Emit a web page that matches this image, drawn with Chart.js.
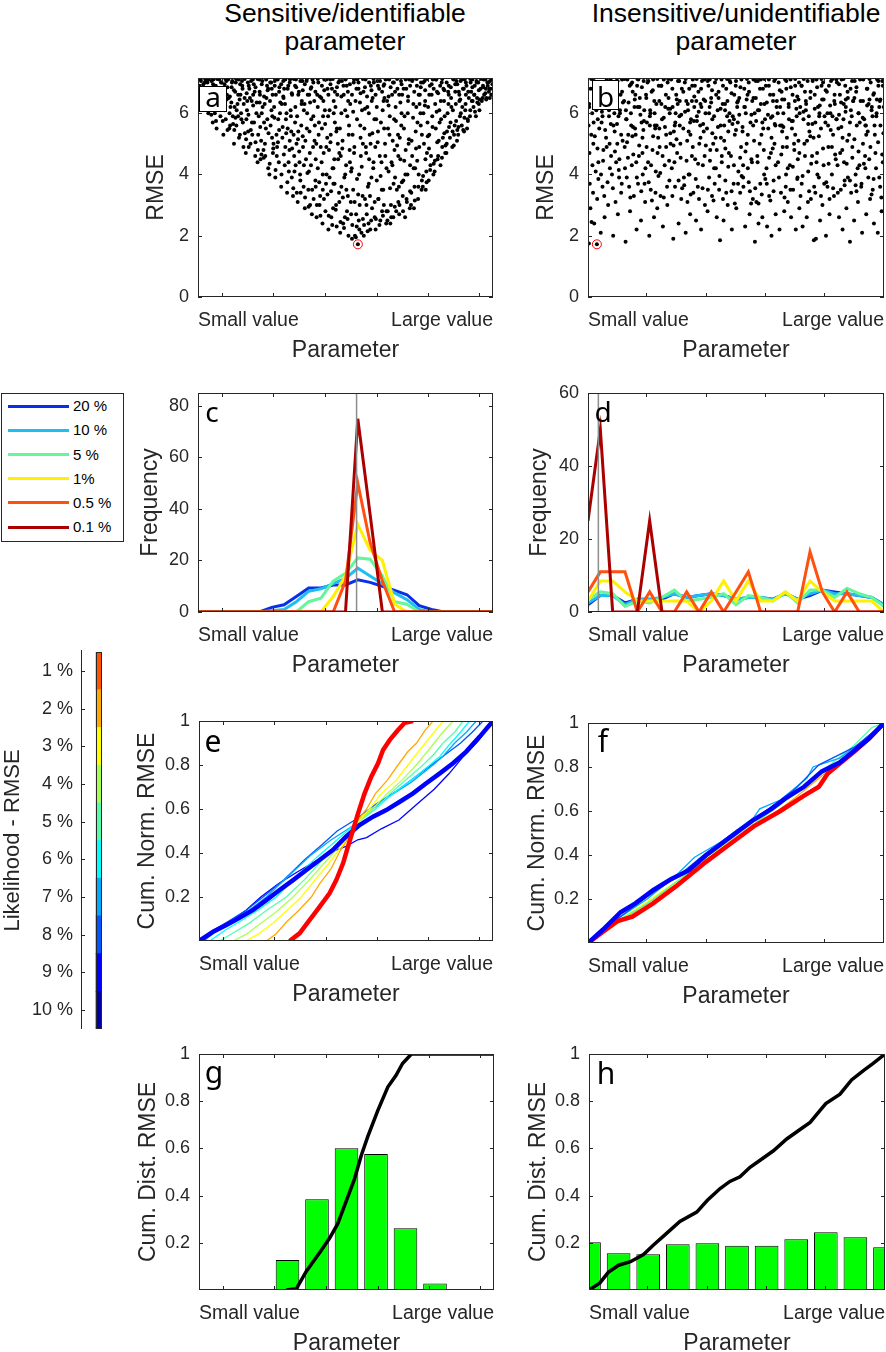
<!DOCTYPE html>
<html>
<head>
<meta charset="utf-8">
<title>Sensitive vs insensitive parameter</title>
<script src="https://cdn.jsdelivr.net/npm/chart.js@4.4.1/dist/chart.umd.min.js"></script>
<style>
  html, body { margin: 0; padding: 0; overflow: hidden; background: #fff; }
  body { position: relative; width: 886px; height: 1352px; font-family: "Liberation Sans", Arial, sans-serif; }
  .pane { position: absolute; }
  .ttl { position: absolute; width: 320px; text-align: center; font-size: 26.5px; line-height: 28px; color: #000; }
  .let { position: absolute; font-family: "Noto Sans", sans-serif; color: #000; text-align: center; }
  .lbox { position: absolute; background: #fff; border: 1px solid #000; box-sizing: border-box; }
  #legend { position: absolute; left: 1px; top: 393px; width: 123px; height: 149px; border: 1px solid #262626; box-sizing: border-box; background: #fff; }
  #legend .sw { position: absolute; left: 6px; width: 61px; height: 3px; }
  #legend .tx { position: absolute; left: 71px; font-size: 15px; line-height: 18px; color: #000; white-space: nowrap; }
</style>
</head>
<body>
<div class="ttl" style="left:185px;top:-1px">Sensitive/identifiable<br>parameter</div>
<div class="ttl" style="left:576px;top:-1px">Insensitive/unidentifiable<br>parameter</div>
<div id="legend"></div>
<script>
// ---- data ----
// a: parameter (% of range), RMSE  -- sensitive parameter
var ptsA = [
 0.5,6.9, 1,7.05, 1.5,6.6, 2,6.3, 2.5,7.1, 3,6.8, 3.5,6.0, 0.8,6.45, 1.8,6.95, 3.2,7.0, 2.2,6.7, 3.8,6.5, 0.3,7.1,
 4.2,6.2, 4.6,7.05, 5,5.7, 5.5,6.55, 6,6.9, 6.3,5.5, 6.8,6.3, 7.2,7.1, 7.6,5.9, 4.8,6.8, 5.8,6.1, 7.0,6.7, 7.8,7.0, 5.2,7.1,
 8.2,6.4, 8.6,5.3, 9,6.95, 9.4,5.8, 9.8,6.6, 10.2,7.1, 10.6,5.5, 11,6.2, 11.4,6.85, 11.8,5.9, 8.9,6.1, 10.4,6.5, 11.6,7.05, 9.6,7.05, 10.9,5.6,
 12.2,5.0, 12.6,6.7, 13,5.6, 13.4,6.3, 13.8,7.1, 14.2,5.3, 14.6,6.0, 15,6.9, 15.4,4.9, 15.8,6.5, 12.8,7.0, 13.6,5.9, 14.4,6.6, 15.2,5.7, 12.4,6.2, 14.9,7.05,
 16.2,4.7, 16.6,6.1, 17,5.4, 17.4,6.8, 17.8,5.0, 18.2,6.4, 18.6,7.1, 19,5.7, 19.4,4.6, 19.8,6.0, 16.9,7.0, 17.6,6.5, 18.4,5.3, 19.2,6.7, 16.4,5.8, 18.9,6.95, 17.2,4.9,
 20.2,4.4, 20.6,5.9, 21,6.6, 21.4,5.1, 21.8,7.05, 22.2,4.8, 22.6,6.3, 23,5.5, 23.4,6.9, 23.8,4.2, 20.8,7.1, 21.6,6.0, 22.4,5.7, 23.2,6.5, 20.4,5.3, 22.8,4.6, 23.6,6.75, 21.2,4.5,
 24.2,4.0, 24.6,5.6, 25,6.8, 25.4,4.7, 25.8,6.2, 26.2,3.9, 26.6,5.3, 27,7.1, 27.4,4.4, 27.8,6.0, 24.8,7.0, 25.6,5.0, 26.4,6.6, 27.2,5.8, 24.4,6.4, 26.8,4.9, 27.6,6.85, 25.2,5.9, 26,7.05,
 28.2,3.6, 28.6,5.2, 29,6.5, 29.4,4.3, 29.8,5.8, 30.2,3.4, 30.6,6.9, 31,4.8, 31.4,6.1, 31.8,3.9, 28.9,7.05, 29.6,4.9, 30.4,5.5, 31.2,7.1, 28.4,6.3, 30.8,4.1, 31.6,5.4, 29.2,6.8, 30,6.0, 31.9,6.6,
 32.2,3.3, 32.6,4.6, 33,6.2, 33.4,5.0, 33.8,3.1, 34.2,6.7, 34.6,4.0, 35,5.6, 35.4,7.05, 35.8,3.6, 32.9,6.9, 33.6,5.9, 34.4,4.4, 35.2,6.4, 32.4,5.3, 34.8,3.4, 35.6,4.9, 33.2,7.1, 34,5.4, 35.9,6.1, 32.7,4.1,
 36.2,2.9, 36.6,4.5, 37,6.0, 37.4,3.5, 37.8,5.4, 38.2,6.8, 38.6,2.7, 39,4.9, 39.4,6.4, 39.8,3.8, 36.8,7.05, 37.6,4.1, 38.4,5.8, 39.2,3.2, 36.4,5.1, 38.8,7.1, 39.6,5.6, 37.2,6.6, 38,3.0, 36.1,6.3, 39.9,4.5,
 40.2,2.6, 40.6,4.2, 41,5.7, 41.4,3.3, 41.8,6.5, 42.2,2.4, 42.6,4.7, 43,6.1, 43.4,3.7, 43.8,5.2, 40.8,7.0, 41.6,4.9, 42.4,5.9, 43.2,2.8, 40.4,6.6, 42.8,7.1, 43.6,4.0, 41.2,3.0, 42,5.5, 43.9,6.8, 40.1,5.0, 42.3,3.5,
 44.2,2.2, 44.6,3.9, 45,5.3, 45.4,6.8, 45.8,2.9, 46.2,4.5, 46.6,6.2, 47,2.3, 47.4,5.0, 47.8,3.4, 44.8,7.1, 45.6,4.2, 46.4,5.7, 47.2,6.6, 44.4,4.8, 46.8,3.0, 47.6,7.0, 45.2,2.6, 46,6.0, 47.9,4.7, 44.1,5.9, 46.9,5.4, 45.9,3.7,
 48.2,2.1, 48.6,3.6, 49,5.1, 49.4,6.6, 49.8,2.6, 50.2,4.3, 50.6,5.9, 51,2.0, 51.4,4.8, 51.8,3.1, 48.8,7.05, 49.6,3.9, 50.4,6.9, 51.2,5.6, 48.4,4.6, 50.8,3.3, 51.6,6.3, 49.2,2.4, 50,7.1, 51.9,4.1, 48.1,5.5, 50.5,2.8, 49.9,6.1,
 52.2,1.9, 52.6,3.5, 53,4.9, 53.4,6.4, 53.8,2.3, 54.2,1.72, 54.6,4.0, 55,5.6, 55.4,2.1, 55.8,3.3, 52.8,7.0, 53.6,2.7, 54.4,6.8, 55.2,4.6, 52.4,5.3, 54.8,3.0, 55.6,6.1, 53.2,2.0, 54,7.1, 55.9,5.0, 52.1,4.2, 54.5,2.5, 53.9,5.8,
 56.2,2.0, 56.6,3.2, 57,4.7, 57.4,6.2, 57.8,2.4, 58.2,5.3, 58.6,6.9, 59,2.9, 59.4,4.2, 59.8,5.8, 56.8,7.1, 57.6,3.6, 58.4,2.2, 59.2,6.5, 56.4,5.5, 58.8,3.9, 59.6,7.0, 57.2,2.7, 58,4.5, 59.9,3.1, 56.1,6.7, 58.5,5.0, 57.9,6.0,
 60.2,2.2, 60.6,3.8, 61,5.4, 61.4,6.8, 61.8,2.5, 62.2,4.4, 62.6,6.1, 63,3.0, 63.4,5.0, 63.8,2.4, 60.8,7.05, 61.6,4.6, 62.4,2.8, 63.2,6.5, 60.4,5.8, 62.8,3.5, 63.6,7.1, 61.2,3.2, 62,5.7, 63.9,4.2, 60.1,4.9, 62.9,6.9,
 64.2,2.5, 64.6,4.1, 65,5.9, 65.4,3.0, 65.8,6.6, 66.2,2.6, 66.6,4.8, 67,6.2, 67.4,3.5, 67.8,5.3, 64.8,7.1, 65.6,4.4, 66.4,7.0, 67.2,2.8, 64.4,5.5, 66.8,3.9, 67.6,6.8, 65.2,2.4, 66,5.1, 67.9,4.6, 64.1,6.4, 66.5,5.8,
 68.2,2.7, 68.6,4.5, 69,6.0, 69.4,3.3, 69.8,5.5, 70.2,2.6, 70.6,6.8, 71,4.0, 71.4,5.0, 71.8,2.9, 68.8,7.05, 69.6,3.8, 70.4,4.8, 71.2,6.4, 68.4,5.2, 70.8,3.1, 71.6,7.1, 69.2,6.6, 70,5.9, 71.9,4.3, 68.1,3.6,
 72.2,3.0, 72.6,4.6, 73,6.3, 73.4,3.6, 73.8,5.4, 74.2,6.9, 74.6,3.2, 75,4.9, 75.4,6.0, 75.8,3.5, 72.8,7.1, 73.6,4.2, 74.4,5.7, 75.2,6.6, 72.4,5.1, 74.8,4.0, 75.6,7.0, 73.2,2.9, 74,6.2, 75.9,5.3,
 76.2,3.6, 76.6,5.0, 77,6.4, 77.4,4.1, 77.8,5.7, 78.2,3.8, 78.6,6.9, 79,4.6, 79.4,5.9, 79.8,4.0, 76.8,7.05, 77.6,4.7, 78.4,5.3, 79.2,6.6, 76.4,6.0, 78.8,4.3, 79.6,7.1, 77.2,3.5, 78,6.2,
 80.2,4.1, 80.6,5.5, 81,6.7, 81.4,4.6, 81.8,6.1, 82.2,4.3, 82.6,7.0, 83,5.2, 83.4,6.4, 83.8,4.7, 80.8,7.1, 81.6,5.1, 82.4,5.8, 83.2,6.8, 80.4,6.3, 82.8,4.9, 83.6,5.9, 81.2,4.5,
 84.2,4.7, 84.6,6.0, 85,6.9, 85.4,5.2, 85.8,6.5, 86.2,4.9, 86.6,7.1, 87,5.6, 87.4,6.3, 87.8,5.1, 84.8,6.7, 85.6,5.7, 86.4,6.1, 87.2,6.95, 84.4,5.4, 86.8,5.3, 87.6,7.05,
 88.2,5.3, 88.6,6.4, 89,7.05, 89.4,5.6, 89.8,6.8, 90.2,5.4, 90.6,6.1, 91,6.9, 91.4,5.8, 91.8,6.5, 88.8,5.9, 89.6,6.2, 90.4,7.1, 91.2,5.5, 88.4,6.7, 90.8,6.6,
 92.2,5.9, 92.6,6.7, 93,7.1, 93.4,6.2, 93.8,6.9, 94.2,5.9, 94.6,6.5, 95,7.0, 95.4,6.1, 95.8,6.8, 92.8,6.4, 93.6,6.6, 94.4,7.05, 95.2,6.3, 92.4,7.0,
 96.2,6.4, 96.6,6.9, 97,6.6, 97.4,7.1, 97.8,6.5, 98.2,6.9, 98.6,6.7, 99,7.05, 99.4,6.6, 99.8,6.95, 96.8,7.1, 97.6,6.8, 98.4,7.0, 99.2,6.8
];
// a: more runs inside the V
var midA = [
 0.7,6.25, 1.9,6.4, 3.1,6.15, 2.7,6.45,
 4.5,5.95, 5.3,6.35, 6.1,5.75, 6.9,6.15, 7.5,6.45, 5.7,6.0,
 8.4,5.75, 9.2,6.25, 10.0,5.45, 10.7,6.0, 11.3,6.35, 11.9,5.65, 9.7,6.45,
 12.3,5.45, 13.1,6.1, 13.9,5.2, 14.7,5.8, 15.5,6.3, 12.7,5.85, 14.1,6.45, 15.9,5.35,
 16.3,5.15, 17.1,5.95, 17.9,5.45, 18.7,6.25, 19.5,5.05, 16.7,6.4, 18.3,5.7, 19.9,6.35,
 20.3,4.8, 21.1,5.55, 21.9,6.2, 22.7,5.0, 23.5,5.8, 20.9,6.35, 22.3,4.55, 23.9,5.35, 21.5,4.65,
 24.3,4.35, 25.1,5.2, 25.9,5.85, 26.7,4.6, 27.5,5.45, 24.9,6.1, 26.3,4.15, 27.9,6.35, 25.5,4.85, 27.1,5.05,
 28.3,4.0, 29.1,4.65, 29.9,5.35, 30.7,4.4, 31.5,5.9, 28.7,5.55, 30.3,3.75, 31.9,4.85, 29.5,6.3, 31.1,5.1,
 32.3,3.55, 33.1,4.3, 33.9,5.15, 34.7,3.8, 35.5,5.25, 32.9,5.7, 34.3,4.75, 35.9,4.3, 33.5,3.4, 35.1,6.3,
 36.3,3.25, 37.1,4.05, 37.9,4.7, 38.7,3.5, 39.5,5.1, 36.9,5.5, 38.3,4.3, 39.9,3.6, 37.5,2.95, 39.1,5.9, 38.0,6.35,
 40.3,3.0, 41.1,3.75, 41.9,4.4, 42.7,3.2, 43.5,4.9, 40.9,5.3, 42.3,4.0, 43.9,3.35, 41.5,2.65, 43.1,5.65, 40.6,6.2, 42.5,6.4,
 44.3,2.65, 45.1,3.45, 45.9,4.2, 46.7,2.85, 47.5,4.5, 44.9,5.05, 46.3,3.7, 47.9,3.1, 45.5,2.35, 47.1,5.5, 44.6,6.1, 46.0,6.4,
 48.3,2.45, 49.1,3.25, 49.9,4.0, 50.7,2.55, 51.5,4.4, 48.9,4.85, 50.3,3.5, 51.9,2.7, 49.5,2.25, 51.1,5.3, 48.6,6.0, 50.9,6.4,
 52.3,2.35, 53.1,3.1, 53.9,3.85, 54.7,2.2, 55.5,4.25, 52.9,4.7, 54.3,3.35, 55.9,2.55, 53.5,1.95, 55.1,5.2, 52.6,6.05, 54.9,6.35,
 56.3,2.35, 57.1,3.0, 57.9,3.7, 58.7,2.5, 59.5,4.4, 56.9,4.9, 58.3,3.3, 59.9,2.6, 57.5,2.15, 59.1,5.35, 56.6,6.15, 58.9,6.4,
 60.3,2.55, 61.1,3.2, 61.9,3.95, 62.7,2.65, 63.5,4.6, 60.9,5.05, 62.3,3.5, 63.9,2.8, 61.5,2.35, 63.1,5.5, 60.6,6.2, 62.9,6.4,
 64.3,2.8, 65.1,3.55, 65.9,4.3, 66.7,2.95, 67.5,4.95, 64.9,5.3, 66.3,3.7, 67.9,3.1, 65.5,2.6, 67.1,5.75, 64.6,6.25,
 68.3,3.0, 69.1,3.75, 69.9,4.45, 70.7,3.2, 71.5,5.15, 68.9,5.6, 70.3,4.0, 71.9,3.45, 69.5,2.8, 71.1,6.0, 68.6,6.35,
 72.3,3.4, 73.1,4.2, 73.9,4.85, 74.7,3.6, 75.5,5.6, 72.9,5.85, 74.3,4.45, 75.9,3.8, 73.5,3.15, 75.1,6.3,
 76.3,3.95, 77.1,4.5, 77.9,5.25, 78.7,4.15, 79.5,5.55, 76.9,6.25, 78.3,4.85, 79.9,4.35, 77.5,3.75,
 80.3,4.45, 81.1,5.05, 81.9,5.7, 82.7,4.55, 83.5,5.35, 80.9,6.05, 82.3,6.4, 83.9,4.95,
 84.3,5.0, 85.1,5.55, 85.9,6.2, 86.7,4.95, 87.5,5.75, 84.9,6.3, 86.3,5.4, 87.9,5.45,
 88.3,5.55, 89.1,6.0, 89.9,5.45, 90.7,6.3, 91.5,5.75, 88.9,6.45, 90.3,5.85,
 92.3,6.1, 93.1,6.4, 93.9,6.05, 94.7,6.35, 95.5,6.45,
 96.5,6.5, 97.7,6.45, 98.9,6.5
];
// a: the crowded band of runs near the top of the RMSE range
var bandA = [
 0.1,6.75, 0.9,7.12, 1.6,6.85, 2.3,7.0, 2.9,6.55, 3.6,7.1, 4.4,6.75, 5.1,6.95, 5.8,6.6, 6.5,7.12, 7.3,6.8, 8.0,7.0, 8.7,6.7, 9.3,7.12,
 10.0,6.85, 10.8,6.55, 11.5,7.0, 12.2,6.75, 12.9,7.12, 13.6,6.6, 14.3,6.95, 15.1,6.8, 15.8,7.12, 16.5,6.65, 17.2,6.9, 18.0,7.05, 18.7,6.6,
 19.5,6.85, 20.2,7.12, 20.9,6.7, 21.6,6.95, 22.4,6.55, 23.1,7.1, 23.8,6.8, 24.5,7.0, 25.3,6.6, 26.0,6.9, 26.7,7.12, 27.5,6.7, 28.2,6.95,
 28.9,6.55, 29.6,7.1, 30.4,6.8, 31.1,7.0, 31.8,6.65, 32.5,7.12, 33.3,6.85, 34.0,6.6, 34.7,7.05, 35.5,6.75, 36.2,6.95, 36.9,7.12, 37.7,6.6,
 38.4,6.85, 39.1,7.0, 39.8,6.7, 40.6,7.12, 41.3,6.55, 42.0,6.9, 42.8,6.75, 43.5,7.1, 44.2,6.6, 44.9,6.95, 45.7,7.12, 46.4,6.7, 47.1,6.85,
 47.9,7.05, 48.6,6.55, 49.3,6.9, 50.0,7.12, 50.8,6.7, 51.5,6.95, 52.2,6.6, 52.9,7.1, 53.7,6.8, 54.4,7.0, 55.1,6.65, 55.9,7.12, 56.6,6.85,
 57.3,6.55, 58.0,7.0, 58.8,6.75, 59.5,7.12, 60.2,6.6, 61.0,6.9, 61.7,7.05, 62.4,6.7, 63.1,6.95, 63.9,7.12, 64.6,6.55, 65.3,6.85, 66.1,7.0,
 66.8,6.7, 67.5,7.12, 68.2,6.6, 69.0,6.95, 69.7,6.8, 70.4,7.1, 71.2,6.55, 71.9,6.9, 72.6,7.05, 73.3,6.7, 74.1,7.12, 74.8,6.6, 75.5,6.85,
 76.3,7.0, 77.0,6.75, 77.7,7.12, 78.4,6.6, 79.2,6.95, 79.9,6.8, 80.6,7.1, 81.4,6.65, 82.1,6.9, 82.8,7.12, 83.5,6.75, 84.3,7.0, 85.0,6.6,
 85.7,6.85, 86.5,7.12, 87.2,6.7, 87.9,6.95, 88.6,6.6, 89.4,7.1, 90.1,6.8, 90.8,7.0, 91.6,6.7, 92.3,7.12, 93.0,6.85, 93.7,6.6, 94.5,7.0,
 95.2,6.75, 95.9,7.12, 96.7,6.85, 97.4,6.65, 98.1,7.0, 98.8,6.8, 99.6,7.12
];
// b: parameter (% of range), RMSE  -- insensitive parameter
var ptsB = [
 0.3,1.75, 3.0,1.72, 1.2,2.45, 2.1,2.4, 0.8,2.9, 3.1,3.2, 2.6,4.1, 0.5,4.7, 1.8,5.0, 3.5,4.4, 0.2,5.6, 1.4,6.0, 2.4,6.4, 3.3,5.8, 0.9,6.8, 2.0,7.05, 3.7,6.6, 1.1,5.3, 2.9,6.95,
 4.3,2.1, 5.6,2.6, 6.8,3.0, 4.9,3.6, 7.4,4.2, 5.2,4.8, 6.1,5.2, 7.8,4.6, 4.6,5.7, 5.9,6.2, 7.1,5.9, 4.1,6.5, 6.5,6.9, 7.6,7.1, 5.4,7.0, 6.9,6.3, 4.8,6.7,
 8.5,2.0, 10.1,2.7, 11.2,3.4, 9.3,3.1, 8.1,4.0, 10.6,4.5, 11.7,5.1, 9.0,5.4, 10.3,5.9, 8.7,6.3, 11.0,6.6, 9.6,7.05, 11.5,7.1, 8.3,6.8, 10.8,6.1, 9.9,5.0,
 12.7,1.8, 14.2,2.8, 15.5,3.3, 13.1,3.9, 14.8,4.3, 12.4,4.9, 15.9,5.5, 13.6,5.3, 14.5,6.0, 12.2,6.4, 15.1,6.7, 13.3,7.1, 14.1,6.9, 15.7,6.2, 12.9,5.8, 14.9,7.0,
 16.4,2.2, 17.9,2.5, 19.3,3.1, 16.9,3.7, 18.5,4.0, 17.2,4.6, 19.8,4.9, 16.1,5.3, 18.1,5.7, 19.0,6.1, 17.5,6.5, 16.6,6.9, 18.8,7.05, 19.6,6.6, 17.0,7.1, 18.4,5.2, 16.3,4.4,
 20.7,2.0, 22.3,2.6, 23.4,2.9, 21.2,3.5, 22.9,4.1, 20.3,4.4, 21.8,4.8, 23.7,5.2, 20.9,5.6, 22.5,6.0, 23.1,6.3, 21.5,6.7, 20.1,7.0, 22.0,7.1, 23.9,6.9, 21.0,6.1, 22.7,5.5,
 25.3,2.3, 26.8,3.0, 24.5,3.3, 27.5,3.8, 25.9,4.3, 24.2,4.9, 26.4,5.3, 27.9,5.0, 25.0,5.8, 26.1,6.2, 27.2,6.5, 24.7,6.9, 25.6,7.1, 26.9,7.0, 27.6,6.0, 24.1,5.5,
 28.8,1.9, 30.6,2.4, 31.5,3.2, 29.4,3.6, 28.3,4.2, 30.1,4.7, 31.2,5.0, 29.0,5.4, 30.9,5.9, 28.6,6.2, 29.8,6.6, 31.7,6.8, 30.4,7.05, 28.1,7.1, 29.5,5.7, 31.0,6.4,
 33.0,2.1, 34.5,2.7, 35.6,3.4, 32.4,3.9, 34.0,4.0, 35.1,4.6, 33.5,5.1, 32.2,5.5, 34.8,5.8, 35.9,6.2, 33.2,6.4, 34.2,6.8, 32.7,7.0, 35.4,7.1, 33.8,6.1, 34.6,5.3,
 36.5,2.5, 38.2,2.2, 39.5,3.0, 37.1,3.6, 38.8,4.3, 36.2,4.5, 37.6,5.0, 39.1,5.4, 36.8,5.9, 38.0,6.3, 39.7,6.0, 37.3,6.7, 38.5,7.05, 36.1,6.9, 39.3,7.1, 37.9,5.6, 36.6,6.4,
 40.4,2.8, 41.9,3.3, 43.5,2.6, 40.9,3.9, 42.6,4.2, 41.3,4.8, 43.1,5.2, 40.2,5.5, 42.0,5.8, 43.8,6.1, 41.6,6.5, 40.7,6.9, 42.9,7.0, 41.1,7.1, 43.3,6.6, 42.3,5.0,
 44.6,1.85, 45.8,2.5, 47.2,3.0, 44.3,3.5, 46.4,3.8, 45.2,4.4, 47.6,4.7, 44.9,5.2, 46.0,5.6, 47.0,5.9, 45.5,6.3, 44.1,6.7, 46.7,6.8, 47.9,7.05, 45.1,7.1, 46.3,6.1, 47.4,5.4,
 48.6,2.2, 50.1,2.9, 51.4,3.4, 49.2,3.7, 50.8,4.1, 48.3,4.6, 51.7,4.9, 49.6,5.3, 48.9,5.9, 50.4,6.2, 51.1,6.5, 49.9,6.9, 48.1,7.0, 51.8,7.1, 50.6,5.7, 49.4,6.6,
 53.1,2.3, 54.6,2.7, 55.7,3.2, 52.5,3.6, 54.0,4.2, 55.2,4.5, 53.6,5.0, 52.2,5.4, 54.9,5.7, 53.3,6.0, 55.5,6.4, 52.8,6.8, 54.3,7.0, 55.9,7.1, 53.9,6.6, 52.4,4.3,
 56.4,1.8, 57.6,2.4, 58.9,2.6, 56.9,3.1, 58.2,3.7, 59.5,4.0, 57.2,4.6, 56.1,5.1, 58.6,5.3, 59.8,5.8, 57.8,6.1, 56.7,6.5, 59.1,6.8, 57.4,7.05, 58.4,7.1, 56.3,6.0, 59.6,6.3,
 60.5,2.3, 62.0,2.0, 63.4,2.7, 61.2,3.3, 62.7,3.8, 60.3,4.2, 61.8,4.7, 63.0,5.0, 60.9,5.5, 62.3,5.9, 63.7,6.2, 61.5,6.6, 60.1,6.9, 62.9,7.05, 61.1,7.1, 63.3,5.6, 62.5,6.4,
 64.7,2.2, 66.3,2.8, 67.5,3.1, 65.2,3.4, 66.9,4.0, 64.2,4.4, 65.8,4.9, 67.2,5.2, 64.9,5.6, 66.0,6.0, 67.8,6.3, 65.4,6.7, 64.4,7.0, 66.6,7.1, 67.0,6.8, 65.6,5.4,
 68.6,2.6, 70.2,2.2, 71.4,2.9, 69.3,3.5, 70.8,3.9, 68.2,4.3, 69.7,4.8, 71.1,5.1, 68.9,5.5, 70.5,5.9, 71.7,6.2, 69.1,6.6, 70.0,6.9, 68.4,7.1, 71.3,7.0, 69.9,6.4, 70.9,4.5,
 72.5,2.3, 73.9,2.6, 75.3,3.2, 72.2,3.7, 74.4,4.1, 75.7,4.6, 73.1,5.0, 74.8,5.4, 72.8,5.8, 73.6,6.1, 75.1,6.5, 72.1,6.9, 74.2,7.05, 75.9,7.1, 73.3,6.7, 74.6,5.9,
 76.3,1.85, 77.0,1.9, 78.4,2.5, 79.2,3.0, 76.8,3.4, 78.0,3.9, 79.6,4.3, 77.4,4.7, 76.2,5.2, 78.7,5.5, 79.9,5.9, 77.7,6.2, 76.6,6.6, 78.9,6.9, 77.2,7.1, 79.4,7.0, 78.2,6.0,
 80.4,2.0, 81.6,2.7, 83.1,3.3, 80.9,3.6, 82.4,4.0, 83.7,4.5, 81.2,4.9, 82.8,5.3, 80.2,5.7, 81.9,6.0, 83.4,6.3, 80.7,6.7, 82.1,7.05, 83.9,7.1, 81.4,6.9, 82.6,5.9,
 84.8,2.6, 86.0,2.2, 87.3,2.9, 85.4,3.5, 86.7,3.8, 84.3,4.3, 85.9,4.8, 87.6,5.1, 84.6,5.5, 86.3,5.8, 87.1,6.2, 85.1,6.6, 86.9,6.9, 84.1,7.0, 85.7,7.1, 87.8,6.5, 86.5,4.4,
 88.5,1.8, 89.9,2.5, 91.2,3.1, 88.9,3.4, 90.4,4.0, 91.7,4.3, 89.3,4.9, 88.2,5.3, 90.8,5.6, 91.4,6.0, 89.6,6.4, 88.7,6.8, 90.1,7.05, 91.9,7.1, 90.6,6.7, 89.1,5.9,
 92.6,2.1, 94.0,2.7, 95.3,3.2, 92.3,3.6, 93.7,4.2, 95.0,4.5, 92.9,5.0, 94.5,5.4, 93.3,5.8, 95.8,6.1, 92.1,6.4, 94.2,6.8, 93.0,7.1, 95.5,7.0, 94.8,6.3, 93.9,5.6,
 96.6,2.4, 97.9,2.1, 99.2,2.8, 96.2,3.5, 98.4,3.9, 99.6,4.4, 97.1,4.7, 96.9,5.3, 98.8,5.6, 97.5,6.0, 99.9,6.2, 96.4,6.6, 98.1,6.9, 99.4,7.05, 97.7,7.1, 98.6,6.4, 96.1,5.9
];
// b: more runs in the middle of the RMSE range
var midB = [
 0.6,3.7, 1.5,4.3, 2.3,5.25, 3.2,4.85, 3.8,5.5, 0.4,6.3, 1.7,3.4, 2.8,6.1, 3.5,3.85,
 4.4,4.0, 5.1,4.45, 5.8,5.45, 6.6,3.75, 7.3,5.0, 4.7,6.05, 6.3,4.9, 7.7,5.65, 5.5,3.3, 7.0,6.45,
 8.4,3.55, 9.1,4.75, 9.8,5.65, 10.5,3.9, 11.2,5.3, 8.9,6.0, 10.4,4.15, 11.8,6.35, 9.5,4.4, 11.4,3.7,
 12.5,4.2, 13.2,5.05, 13.9,3.6, 14.6,5.6, 15.3,4.65, 12.8,6.1, 14.3,3.25, 15.8,6.45, 13.5,4.55, 15.0,5.25,
 16.5,3.9, 17.3,4.95, 18.0,3.45, 18.7,5.45, 19.4,4.2, 16.8,6.2, 18.4,4.7, 19.9,5.7, 17.7,5.95, 19.1,3.7,
 20.5,3.75, 21.3,4.3, 22.0,5.25, 22.8,3.4, 23.5,4.7, 20.9,5.9, 22.4,6.4, 23.8,3.95, 21.6,3.15, 23.2,5.6,
 24.4,4.05, 25.2,4.6, 26.0,5.55, 26.7,3.6, 27.4,4.45, 24.8,6.3, 26.4,4.9, 27.8,5.35, 25.6,3.25, 27.1,6.15,
 28.5,3.3, 29.2,4.4, 29.9,5.15, 30.6,3.8, 31.3,4.55, 28.9,4.95, 30.3,6.3, 31.8,3.55, 29.6,6.0, 31.0,5.6,
 32.5,3.65, 33.3,4.45, 34.0,5.4, 34.7,3.35, 35.4,4.9, 32.8,6.05, 34.3,4.0, 35.8,5.75, 33.6,3.1, 35.1,6.4,
 36.4,3.85, 37.2,4.35, 38.0,5.2, 38.7,3.55, 39.4,4.6, 36.8,5.75, 38.3,6.2, 39.8,4.95, 37.5,3.2, 39.1,6.45,
 40.5,3.5, 41.2,4.45, 42.0,5.35, 42.8,3.7, 43.5,4.8, 40.9,6.0, 42.4,3.15, 43.9,5.55, 41.6,6.35, 43.2,4.2,
 44.4,3.95, 45.2,4.6, 46.0,5.1, 46.7,3.4, 47.4,4.25, 44.8,6.15, 46.4,4.85, 47.8,5.75, 45.6,3.2, 47.1,6.4,
 48.5,3.45, 49.3,4.3, 50.0,5.45, 50.7,3.7, 51.4,4.55, 48.8,5.65, 50.4,6.35, 51.9,3.95, 49.6,3.05, 51.1,5.95,
 52.4,3.9, 53.2,4.75, 54.0,5.3, 54.7,3.45, 55.4,4.4, 52.8,6.2, 54.3,3.75, 55.8,5.6, 53.6,6.45, 55.1,3.05,
 56.5,3.55, 57.3,4.4, 58.0,5.0, 58.7,3.35, 59.4,4.8, 56.8,5.75, 58.4,6.3, 59.9,3.85, 57.6,3.05, 59.2,5.5,
 60.4,3.7, 61.2,4.55, 62.0,5.2, 62.7,3.45, 63.4,4.3, 60.8,5.95, 62.4,4.85, 63.8,6.4, 61.6,3.15, 63.1,5.65,
 64.5,3.9, 65.3,4.65, 66.0,5.55, 66.8,3.6, 67.5,4.2, 64.9,6.2, 66.4,3.25, 67.9,5.8, 65.6,6.45, 67.2,4.9,
 68.4,3.5, 69.2,4.25, 70.0,5.3, 70.7,3.85, 71.4,4.7, 68.8,5.75, 70.4,6.15, 71.8,3.3, 69.6,5.0, 71.1,6.45,
 72.5,3.95, 73.3,4.6, 74.0,5.1, 74.7,3.45, 75.4,4.35, 72.8,6.05, 74.3,3.1, 75.8,5.65, 73.6,6.4, 75.1,5.25,
 76.4,3.6, 77.2,4.4, 78.0,5.25, 78.7,3.3, 79.4,4.85, 76.8,5.7, 78.3,6.25, 79.8,3.7, 77.5,4.0, 79.1,6.45,
 80.5,3.75, 81.3,4.35, 82.0,5.45, 82.8,3.55, 83.5,4.65, 80.9,6.0, 82.4,4.9, 83.9,5.8, 81.6,3.2, 83.2,6.4,
 84.4,3.4, 85.2,4.7, 86.0,5.2, 86.7,3.65, 87.4,4.35, 84.8,5.95, 86.4,6.3, 87.8,3.9, 85.6,5.55, 87.1,6.45,
 88.5,3.8, 89.3,4.55, 90.0,5.15, 90.7,3.45, 91.4,4.75, 88.8,6.1, 90.4,3.65, 91.8,5.7, 89.6,6.4, 91.1,4.2,
 92.4,3.7, 93.2,4.35, 94.0,5.3, 94.7,3.9, 95.4,4.9, 92.8,5.85, 94.3,6.25, 95.8,3.35, 93.6,4.6, 95.1,6.45,
 96.5,3.85, 97.3,4.2, 98.0,5.05, 98.7,3.6, 99.4,4.65, 96.8,5.6, 98.4,6.2, 99.8,5.35, 97.6,6.45, 99.1,3.25
];
// b: the crowded upper half
var bandB = [
 0.4,6.2, 1.1,7.12, 1.9,5.7, 2.6,6.75, 3.4,6.4, 4.1,7.0, 4.9,5.9, 5.6,6.55, 6.3,7.12, 7.1,6.1, 7.8,6.8, 8.6,5.6, 9.3,6.45, 10.0,7.05,
 10.8,6.0, 11.5,6.7, 12.3,7.12, 13.0,5.8, 13.7,6.35, 14.5,6.95, 15.2,5.55, 16.0,6.6, 16.7,7.12, 17.4,6.2, 18.2,6.85, 18.9,5.75, 19.7,6.5,
 20.4,7.05, 21.1,6.0, 21.9,6.75, 22.6,5.6, 23.4,7.12, 24.1,6.4, 24.8,6.9, 25.6,5.85, 26.3,6.6, 27.1,7.12, 27.8,6.15, 28.5,6.8, 29.3,5.6,
 30.0,6.45, 30.8,7.05, 31.5,5.95, 32.2,6.7, 33.0,7.12, 33.7,6.3, 34.5,5.7, 35.2,6.9, 35.9,6.55, 36.7,7.12, 37.4,6.05, 38.2,6.8, 38.9,5.65,
 39.6,6.4, 40.4,7.05, 41.1,6.2, 41.9,6.75, 42.6,5.9, 43.3,7.12, 44.1,6.5, 44.8,5.6, 45.6,6.9, 46.3,6.3, 47.0,7.12, 47.8,6.0, 48.5,6.65,
 49.3,5.8, 50.0,7.05, 50.7,6.4, 51.5,6.85, 52.2,5.55, 53.0,6.2, 53.7,7.12, 54.4,6.7, 55.2,5.95, 55.9,6.5, 56.7,7.05, 57.4,6.1, 58.1,6.8,
 58.9,5.7, 59.6,7.12, 60.4,6.35, 61.1,6.9, 61.8,5.85, 62.6,6.6, 63.3,7.12, 64.1,6.0, 64.8,6.75, 65.5,5.6, 66.3,6.45, 67.0,7.05, 67.8,6.2,
 68.5,6.85, 69.2,5.75, 70.0,7.12, 70.7,6.55, 71.5,6.0, 72.2,6.9, 72.9,7.12, 73.7,6.3, 74.4,5.65, 75.2,6.7, 75.9,7.05, 76.6,6.15, 77.4,6.85,
 78.1,5.9, 78.9,7.12, 79.6,6.45, 80.3,6.75, 81.1,5.6, 81.8,6.25, 82.6,7.12, 83.3,6.6, 84.0,5.8, 84.8,6.95, 85.5,6.35, 86.3,7.12, 87.0,6.05,
 87.7,6.7, 88.5,5.7, 89.2,7.05, 90.0,6.5, 90.7,6.85, 91.4,6.0, 92.2,7.12, 92.9,6.4, 93.7,5.6, 94.4,6.8, 95.1,7.12, 95.9,6.2, 96.6,6.65,
 97.4,5.9, 98.1,7.05, 98.8,6.45, 99.6,6.9
];
var bestA = [54.2, 1.72];
var bestB = [3.0, 1.72];
var rmseTicks = [0, 2, 4, 6];

// c / d: frequency per parameter bin for the best 20 % ... 0.1 % of runs
var freqBins = [0,1,2,3,4,5,6,7,8,9,10,11,12,13,14,15,16,17,18,19,20,21,22,23,24];
var legendLabels = ['20 %', '10 %', '5 %', '1%', '0.5 %', '0.1 %'];
var c20 = [0,0,0,0,0,0,1.8,2.8,6,9.3,9.3,10.5,10.5,12.5,11.5,10,8.4,6.7,2.5,1,0,0,0,0,0];
var c10 = [0,0,0,0,0,0,0.5,1,4,8,9,11,13,17,14,11,7.4,4.8,1,0,0,0,0,0,0];
var c5  = [0,0,0,0,0,0,0,0,0,4,5.4,12,15,21,20.5,14,4,3,0,0,0,0,0,0,0];
var c1  = [0,0,0,0,0,0,0,0,0,0,0,6,14,34,24,20,3,0,0,0,0,0,0,0,0];
var c05 = [0,0,0,0,0,0,0,0,0,0,0,0,12,50,27,12,0,0,0,0,0,0,0,0,0];
var c01 = [0,0,0,0,0,0,0,0,0,0,0,0,0,75,38,0,0,0,0,0,0,0,0,0,0];
var d20 = [2,4.5,4.5,2.5,3.5,3.5,3.5,5,4,4.5,5,4.5,3.5,4,4,3.5,5,3.5,4.5,6,5.5,5,4.5,4,2];
var d10 = [2.5,4.5,4.5,2,3.5,3.5,4,5,4,4.5,5,4.5,3.5,4,4,3.5,5,3.5,5,6,5,5,4.5,4,2];
var d5  = [3.5,5.5,5,1.5,3,2.5,4,6,3,3.5,4,5,2,4.5,4,3,5.5,2.5,6,6,4,6.5,5,4,1.5];
var d1  = [3,8.5,8.5,5.5,3,3,3,3,3,0,3,8.5,3,8.5,3,3,5.5,3,8.5,5.5,3,3,3,3,0];
var d05 = [5.5,11,11,11,0,5.5,0,0,5.5,0,5.5,0,5.5,11,0,0,0,0,16.5,5.5,0,5.5,0,0,0];
var d01 = [25,50,0,0,0,25,0,0,0,0,0,0,0,0,0,0,0,0,0,0,0,0,0,0,0];
var trueBinC = 12.9, trueBinD = 0.84;
var freqTicksC = [0, 20, 40, 60, 80];
var freqTicksD = [0, 20, 40, 60];

// e / f: cumulative normalised RMSE (x = parameter fraction)
var eRed  = [[0.308,0],[0.342,0.035],[0.376,0.095],[0.41,0.155],[0.444,0.217],[0.467,0.277],[0.49,0.353],[0.507,0.43],[0.524,0.505],[0.541,0.58],[0.563,0.67],[0.586,0.747],[0.609,0.808],[0.626,0.868],[0.649,0.914],[0.677,0.959],[0.7,0.992],[0.728,1]];
var eBlue = [[0,0],[0.048,0.042],[0.093,0.073],[0.138,0.106],[0.184,0.141],[0.229,0.186],[0.274,0.232],[0.32,0.277],[0.365,0.323],[0.41,0.368],[0.456,0.414],[0.5,0.474],[0.546,0.527],[0.592,0.565],[0.637,0.595],[0.683,0.633],[0.728,0.671],[0.773,0.717],[0.819,0.762],[0.864,0.808],[0.909,0.861],[0.955,0.929],[1,1]];
var e2 = [[0.229,0],[0.26,0.03],[0.3,0.09],[0.34,0.14],[0.382,0.2],[0.41,0.26],[0.45,0.33],[0.48,0.41],[0.5,0.45],[0.54,0.55],[0.57,0.6],[0.6,0.67],[0.64,0.73],[0.677,0.8],[0.71,0.86],[0.74,0.9],[0.77,0.96],[0.796,1]];
var e3 = [[0.16,0],[0.2,0.03],[0.25,0.08],[0.3,0.14],[0.348,0.2],[0.39,0.27],[0.44,0.35],[0.49,0.44],[0.54,0.54],[0.58,0.6],[0.62,0.67],[0.67,0.73],[0.711,0.8],[0.74,0.85],[0.77,0.9],[0.8,0.95],[0.83,1]];
var e4 = [[0.116,0],[0.16,0.03],[0.2,0.07],[0.26,0.13],[0.32,0.2],[0.37,0.27],[0.43,0.36],[0.49,0.45],[0.54,0.54],[0.59,0.6],[0.64,0.67],[0.69,0.73],[0.739,0.8],[0.77,0.85],[0.8,0.9],[0.83,0.95],[0.864,1]];
var e5 = [[0.07,0],[0.12,0.04],[0.17,0.08],[0.23,0.14],[0.297,0.2],[0.36,0.28],[0.42,0.37],[0.48,0.45],[0.54,0.54],[0.6,0.6],[0.65,0.67],[0.71,0.74],[0.762,0.8],[0.8,0.85],[0.83,0.9],[0.87,0.95],[0.898,1]];
var e6 = [[0.036,0],[0.09,0.05],[0.14,0.09],[0.2,0.14],[0.263,0.2],[0.33,0.29],[0.4,0.38],[0.47,0.46],[0.53,0.53],[0.6,0.6],[0.66,0.67],[0.72,0.73],[0.785,0.8],[0.82,0.84],[0.85,0.89],[0.89,0.95],[0.92,1]];
var e7 = [[0.017,0],[0.07,0.06],[0.12,0.1],[0.17,0.14],[0.229,0.2],[0.3,0.29],[0.38,0.39],[0.45,0.46],[0.52,0.52],[0.59,0.6],[0.65,0.66],[0.72,0.72],[0.796,0.8],[0.83,0.84],[0.87,0.9],[0.91,0.95],[0.943,1]];
var e8 = [[0,0],[0.05,0.05],[0.1,0.09],[0.16,0.14],[0.218,0.2],[0.29,0.28],[0.36,0.37],[0.42,0.44],[0.47,0.5],[0.53,0.55],[0.6,0.62],[0.67,0.68],[0.75,0.76],[0.82,0.83],[0.89,0.9],[0.93,0.95],[0.966,1]];
var e9 = [[0,0],[0.05,0.04],[0.1,0.08],[0.16,0.14],[0.21,0.2],[0.27,0.26],[0.33,0.31],[0.38,0.35],[0.42,0.38],[0.46,0.41],[0.5,0.43],[0.54,0.46],[0.57,0.47],[0.62,0.51],[0.68,0.55],[0.74,0.62],[0.8,0.69],[0.85,0.76],[0.9,0.84],[0.95,0.91],[1,1]];
var fRed  = [[0,0],[0.05,0.05],[0.1,0.1],[0.15,0.12],[0.22,0.18],[0.3,0.26],[0.4,0.37],[0.48,0.45],[0.56,0.53],[0.65,0.6],[0.73,0.67],[0.78,0.71],[0.81,0.77],[0.9,0.87],[0.95,0.93],[1,1]];
var fBlue = [[0,0],[0.05,0.06],[0.11,0.14],[0.16,0.18],[0.22,0.24],[0.28,0.29],[0.34,0.33],[0.4,0.4],[0.45,0.45],[0.5,0.5],[0.56,0.56],[0.62,0.61],[0.67,0.66],[0.73,0.71],[0.79,0.78],[0.85,0.82],[0.9,0.875],[0.95,0.93],[1,1]];
var f2 = [[0,0],[0.1,0.09],[0.2,0.18],[0.3,0.27],[0.4,0.38],[0.5,0.47],[0.6,0.56],[0.7,0.66],[0.8,0.77],[0.9,0.88],[1,1]];
var f3 = [[0,0],[0.1,0.1],[0.2,0.19],[0.3,0.28],[0.4,0.39],[0.5,0.48],[0.6,0.58],[0.7,0.68],[0.8,0.78],[0.9,0.88],[1,1]];
var f5 = [[0,0],[0.1,0.1],[0.2,0.18],[0.3,0.28],[0.4,0.38],[0.5,0.48],[0.6,0.58],[0.7,0.68],[0.8,0.79],[0.9,0.9],[0.96,0.98],[1,1]];
var f7 = [[0,0],[0.1,0.11],[0.2,0.2],[0.3,0.31],[0.36,0.39],[0.45,0.46],[0.56,0.57],[0.58,0.61],[0.65,0.65],[0.74,0.75],[0.76,0.8],[0.85,0.84],[0.93,0.92],[1,1]];
var f8 = [[0,0],[0.1,0.11],[0.2,0.21],[0.3,0.3],[0.4,0.41],[0.5,0.51],[0.6,0.6],[0.7,0.7],[0.78,0.81],[0.9,0.89],[1,1]];
var cumTicks = [0.2, 0.4, 0.6, 0.8, 1];

// g / h: histogram of best runs + cumulative distribution
var histBins = [0,0.1,0.2,0.3,0.4,0.5,0.6,0.7,0.8,0.9,1];
var gBars = [0,0,0,0.127,0.385,0.601,0.576,0.262,0.028,0,0];
var hBars = [0.202,0.156,0.151,0.194,0.198,0.188,0.188,0.215,0.245,0.223,0.181];
var gCum = [[0.296,0],[0.33,0.005],[0.364,0.08],[0.41,0.16],[0.443,0.22],[0.47,0.28],[0.5,0.38],[0.527,0.47],[0.55,0.57],[0.572,0.65],[0.606,0.76],[0.64,0.86],[0.668,0.91],[0.69,0.96],[0.72,1],[1,1]];
var hCum = [[0,0],[0.037,0.03],[0.065,0.075],[0.1,0.105],[0.14,0.12],[0.184,0.15],[0.217,0.19],[0.262,0.24],[0.307,0.29],[0.364,0.33],[0.4,0.38],[0.443,0.43],[0.476,0.46],[0.51,0.48],[0.544,0.52],[0.578,0.55],[0.623,0.59],[0.668,0.64],[0.713,0.68],[0.747,0.71],[0.78,0.76],[0.8,0.79],[0.848,0.83],[0.887,0.89],[0.927,0.93],[0.96,0.96],[1,1]];

// colour bar
var cbLabels = ['10 %', '9 %', '8 %', '7 %', '6 %', '5 %', '4 %', '3 %', '2 %', '1 %'];
var cbTickPos = [0.5, 1.5, 2.5, 3.5, 4.5, 5.5, 6.5, 7.5, 8.5, 9.5];

// ---- styling ----
var legendColors = ['#0a2fe8', '#1ebef0', '#66f59a', '#fff000', '#ff5010', '#aa0000'];
var jet = ['#0000aa', '#0000ff', '#0055ff', '#00aaff', '#00ffff', '#55ffaa', '#aaff55', '#ffff00', '#ffaa00', '#ff5500'];
var xTickFrLeft = [0.081, 0.254, 0.431, 0.607, 0.78, 0.953];
var xTickFrRight = [0.197, 0.397, 0.597, 0.797];
var xEnds = ['Small value', 'Large value'];

Chart.defaults.font.family = '"Liberation Sans", Arial, sans-serif';
Chart.defaults.color = '#262626';

// matlab style box with inward ticks
var boxPlugin = {
  id: 'mbox',
  afterDatasetsDraw: function (chart, args, o) {
    var ctx = chart.ctx, a = chart.chartArea, sx = chart.scales.x, sy = chart.scales.y;
    ctx.save();
    ctx.strokeStyle = '#262626';
    ctx.lineWidth = 1;
    ctx.beginPath();
    (o.xFr || []).forEach(function (f) {
      var px = Math.round(sx.getPixelForDecimal(f)) + 0.5;
      ctx.moveTo(px, a.bottom); ctx.lineTo(px, a.bottom - 4);
      ctx.moveTo(px, a.top); ctx.lineTo(px, a.top + 4);
    });
    (o.yTicks || []).forEach(function (v) {
      var py = Math.round(sy.getPixelForValue(v)) + 0.5;
      ctx.moveTo(a.left, py); ctx.lineTo(a.left + 4, py);
      ctx.moveTo(a.right, py); ctx.lineTo(a.right - 4, py);
    });
    ctx.stroke();
    ctx.strokeRect(a.left + 0.5, a.top + 0.5, a.width - 1, a.height - 1);
    ctx.restore();
  }
};

var L = 82, T = 24, R = 20, B = 78;
var TITLE_HALF = 13.8; // half line height of the 23px axis titles

function panel(p) {
  var wrap = document.createElement('div');
  wrap.className = 'pane';
  wrap.style.left = (p.box.x - L) + 'px';
  wrap.style.top = (p.box.y - T) + 'px';
  var cv = document.createElement('canvas');
  cv.width = p.box.w + L + R;
  cv.height = p.box.h + T + B;
  wrap.appendChild(cv);
  document.body.appendChild(wrap);
  return new Chart(cv, {
    type: p.type,
    data: { datasets: p.datasets },
    options: {
      responsive: false,
      animation: false,
      events: [],
      layout: { padding: { top: T, right: R, bottom: 0, left: 0 } },
      plugins: { legend: { display: false }, tooltip: { enabled: false }, mbox: { xFr: p.xFr, yTicks: p.yTicks } },
      scales: {
        x: {
          type: 'linear', min: p.xMin, max: p.xMax, offset: false,
          grid: { display: false, drawTicks: false }, border: { display: false },
          afterBuildTicks: function (s) { s.ticks = [{ value: p.xMin }, { value: p.xMax }]; },
          afterFit: function (s) { s.height = B; },
          ticks: { autoSkip: false, maxRotation: 0, minRotation: 0, align: 'inner', padding: 12, font: { size: 19.5 },
                   callback: function (v, i) { return xEnds[i]; } },
          title: { display: true, text: 'Parameter', font: { size: 23 }, padding: { top: 0, bottom: 11 } }
        },
        y: {
          type: 'linear', min: p.yMin, max: p.yMax,
          grid: { display: false, drawTicks: false }, border: { display: false },
          afterBuildTicks: function (s) { s.ticks = p.yTicks.map(function (v) { return { value: v }; }); },
          afterFit: function (s) { s.width = L; },
          ticks: { padding: 9, font: { size: 18 }, callback: function (v) { return String(v); } },
          title: { display: true, text: p.yTitle, font: { size: 23 }, padding: { top: L - p.yOff - TITLE_HALF, bottom: 0 } }
        }
      }
    },
    plugins: [boxPlugin]
  });
}

function toPts(flat) {
  var out = [];
  for (var i = 0; i < flat.length; i += 2) out.push({ x: flat[i], y: flat[i + 1] });
  return out;
}
function scatterSets(groups, best) {
  var pts = [];
  groups.forEach(function (g) { pts = pts.concat(toPts(g)); });
  return [
    { data: [{ x: best[0], y: best[1] }], pointRadius: 4.5, borderColor: '#ff0000', backgroundColor: 'rgba(0,0,0,0)', borderWidth: 1, order: 0 },
    { data: pts, pointRadius: 2, backgroundColor: '#000', borderWidth: 0, order: 1 }
  ];
}
function freqSets(series, trueBin, yMax) {
  var sets = series.map(function (arr, i) {
    return {
      data: arr.map(function (v, k) { return { x: freqBins[k], y: v }; }),
      borderColor: legendColors[i], borderWidth: 3, pointRadius: 0, tension: 0, order: series.length - i
    };
  });
  sets.push({ data: [{ x: trueBin, y: 0 }, { x: trueBin, y: yMax }], borderColor: '#8c8c8c', borderWidth: 1.5, pointRadius: 0, order: 0 });
  return sets;
}
function cumLine(arr, color, w, order) {
  return { data: arr, borderColor: color, borderWidth: w, pointRadius: 0, tension: 0, order: order };
}
function histSets(bars, cum) {
  return [
    { type: 'line', data: cum, borderColor: '#000', borderWidth: 3.5, pointRadius: 0, tension: 0, order: 0 },
    { type: 'bar', data: bars.map(function (v, k) { return { x: histBins[k], y: v }; }),
      backgroundColor: '#00ff00', borderColor: '#000', borderWidth: 1, borderSkipped: false,
      categoryPercentage: 1, barPercentage: 0.8, clip: 0, order: 1 }
  ];
}

// a, b
panel({ type: 'scatter', box: { x: 198, y: 78, w: 295, h: 219 }, xMin: 0, xMax: 100, yMin: 0, yMax: 7.15,
        yTicks: rmseTicks, xFr: xTickFrLeft, yTitle: 'RMSE', yOff: 41, datasets: scatterSets([ptsA, midA, bandA], bestA) });
panel({ type: 'scatter', box: { x: 588, y: 78, w: 296, h: 219 }, xMin: 0, xMax: 100, yMin: 0, yMax: 7.15,
        yTicks: rmseTicks, xFr: xTickFrRight, yTitle: 'RMSE', yOff: 41, datasets: scatterSets([ptsB, midB, bandB], bestB) });
// c, d
panel({ type: 'line', box: { x: 198, y: 393, w: 295, h: 219 }, xMin: 0, xMax: 24, yMin: 0, yMax: 85,
        yTicks: freqTicksC, xFr: xTickFrLeft, yTitle: 'Frequency', yOff: 47.5,
        datasets: freqSets([c20, c10, c5, c1, c05, c01], trueBinC, 85) });
panel({ type: 'line', box: { x: 588, y: 393, w: 296, h: 219 }, xMin: 0, xMax: 24, yMin: 0, yMax: 60,
        yTicks: freqTicksD, xFr: xTickFrRight, yTitle: 'Frequency', yOff: 48,
        datasets: freqSets([d20, d10, d5, d1, d05, d01], trueBinD, 60) });
// e, f
var eThin = [e2, e3, e4, e5, e6, e7, e8, e9];
var eSets = eThin.map(function (arr, i) { return cumLine(arr, jet[8 - i], 1.3, 3 + i); });
eSets.push(cumLine(eBlue, '#0000ff', 4.5, 1));
eSets.push(cumLine(eRed, '#ff0000', 4.5, 0));
panel({ type: 'line', box: { x: 199, y: 721, w: 294, h: 220 }, xMin: 0, xMax: 1, yMin: 0, yMax: 1,
        yTicks: cumTicks, xFr: xTickFrLeft, yTitle: 'Cum. Norm. RMSE', yOff: 51, datasets: eSets });
var fSets = [cumLine(f2, jet[8], 1.3, 7), cumLine(f3, jet[7], 1.3, 6), cumLine(f5, jet[5], 1.3, 5),
             cumLine(f7, jet[3], 1.3, 4), cumLine(f8, jet[2], 1.3, 3), cumLine(fRed, '#ff0000', 4.5, 1), cumLine(fBlue, '#0000ff', 4.5, 0)];
panel({ type: 'line', box: { x: 588, y: 723, w: 296, h: 220 }, xMin: 0, xMax: 1, yMin: 0, yMax: 1,
        yTicks: cumTicks, xFr: xTickFrRight, yTitle: 'Cum. Norm. RMSE', yOff: 50, datasets: fSets });
// g, h
panel({ type: 'bar', box: { x: 199, y: 1054, w: 295, h: 236 }, xMin: 0, xMax: 1, yMin: 0, yMax: 1,
        yTicks: cumTicks, xFr: xTickFrLeft, yTitle: 'Cum. Dist. RMSE', yOff: 50, datasets: histSets(gBars, gCum) });
panel({ type: 'bar', box: { x: 589, y: 1054, w: 296, h: 236 }, xMin: 0, xMax: 1, yMin: 0, yMax: 1,
        yTicks: cumTicks, xFr: xTickFrRight, yTitle: 'Cum. Dist. RMSE', yOff: 50, datasets: histSets(hBars, hCum) });

// colour bar (stacked bar on its own axis)
var cbPlugin = {
  id: 'cbaxis',
  afterDatasetsDraw: function (chart) {
    var ctx = chart.ctx, a = chart.chartArea, sy = chart.scales.y;
    var el = chart.getDatasetMeta(0).data[0];
    ctx.save();
    ctx.strokeStyle = '#262626';
    ctx.lineWidth = 1;
    ctx.beginPath();
    ctx.moveTo(a.left + 0.5, a.top - 2); ctx.lineTo(a.left + 0.5, a.bottom);
    sy.ticks.forEach(function (t) {
      var py = Math.round(sy.getPixelForValue(t.value)) + 0.5;
      ctx.moveTo(a.left, py); ctx.lineTo(a.left + 4, py);
    });
    ctx.stroke();
    ctx.strokeRect(Math.round(el.x - el.width / 2) + 0.5, a.top + 0.5, Math.round(el.width), a.height - 1);
    ctx.restore();
  }
};
(function () {
  var wrap = document.createElement('div');
  wrap.className = 'pane';
  wrap.style.left = '0px';
  wrap.style.top = '630px';
  var cv = document.createElement('canvas');
  cv.width = 130; cv.height = 419;
  wrap.appendChild(cv);
  document.body.appendChild(wrap);
  new Chart(cv, {
    type: 'bar',
    data: {
      labels: ['RMSE'],
      datasets: jet.map(function (c) { return { data: [1], backgroundColor: c, borderWidth: 0, barThickness: 5 }; })
    },
    options: {
      responsive: false, animation: false, events: [],
      layout: { padding: { top: 22, right: 14, bottom: 20, left: 0 } },
      plugins: { legend: { display: false }, tooltip: { enabled: false } },
      scales: {
        x: { stacked: true, display: false },
        y: {
          stacked: true, min: 0, max: 10,
          grid: { display: false, drawTicks: false }, border: { display: false },
          afterBuildTicks: function (s) { s.ticks = cbTickPos.map(function (v) { return { value: v }; }); },
          afterFit: function (s) { s.width = 81; },
          ticks: { padding: 8, font: { size: 18 }, callback: function (v, i) { return cbLabels[i]; } },
          title: { display: true, text: 'Likelihood - RMSE', font: { size: 22 }, padding: { top: 0, bottom: 0 } }
        }
      }
    },
    plugins: [cbPlugin]
  });
})();

// legend box for panels c/d
(function () {
  var lg = document.getElementById('legend');
  legendLabels.forEach(function (lab, i) {
    var yc = 12 + 24.2 * i;
    var sw = document.createElement('div');
    sw.className = 'sw';
    sw.style.top = (yc - 1.5) + 'px';
    sw.style.background = legendColors[i];
    lg.appendChild(sw);
    var tx = document.createElement('div');
    tx.className = 'tx';
    tx.style.top = (yc - 8.8) + 'px';
    tx.textContent = lab;
    lg.appendChild(tx);
  });
  document.body.appendChild(lg);
})();

// panel letters
function letter(ch, left, top, size, boxed) {
  if (boxed) {
    var bx = document.createElement('div');
    bx.className = 'lbox';
    bx.style.left = boxed[0] + 'px'; bx.style.top = boxed[1] + 'px';
    bx.style.width = boxed[2] + 'px'; bx.style.height = boxed[3] + 'px';
    document.body.appendChild(bx);
  }
  var d = document.createElement('div');
  d.className = 'let';
  d.style.left = left + 'px'; d.style.top = top + 'px';
  d.style.width = (boxed ? boxed[2] : size) + 'px';
  d.style.fontSize = size + 'px'; d.style.lineHeight = size + 'px';
  d.textContent = ch;
  document.body.appendChild(d);
}
letter('a', 199, 82, 28, [199, 86, 28, 26]);
letter('b', 592, 82, 28, [592, 80, 27, 30]);
letter('c', 198, 397, 28);
letter('d', 589, 397, 28);
letter('e', 198, 726, 30);
letter('f', 588, 726, 30);
letter('g', 199, 1057, 30);
letter('h', 591, 1058, 30);
</script>
</body>
</html>
